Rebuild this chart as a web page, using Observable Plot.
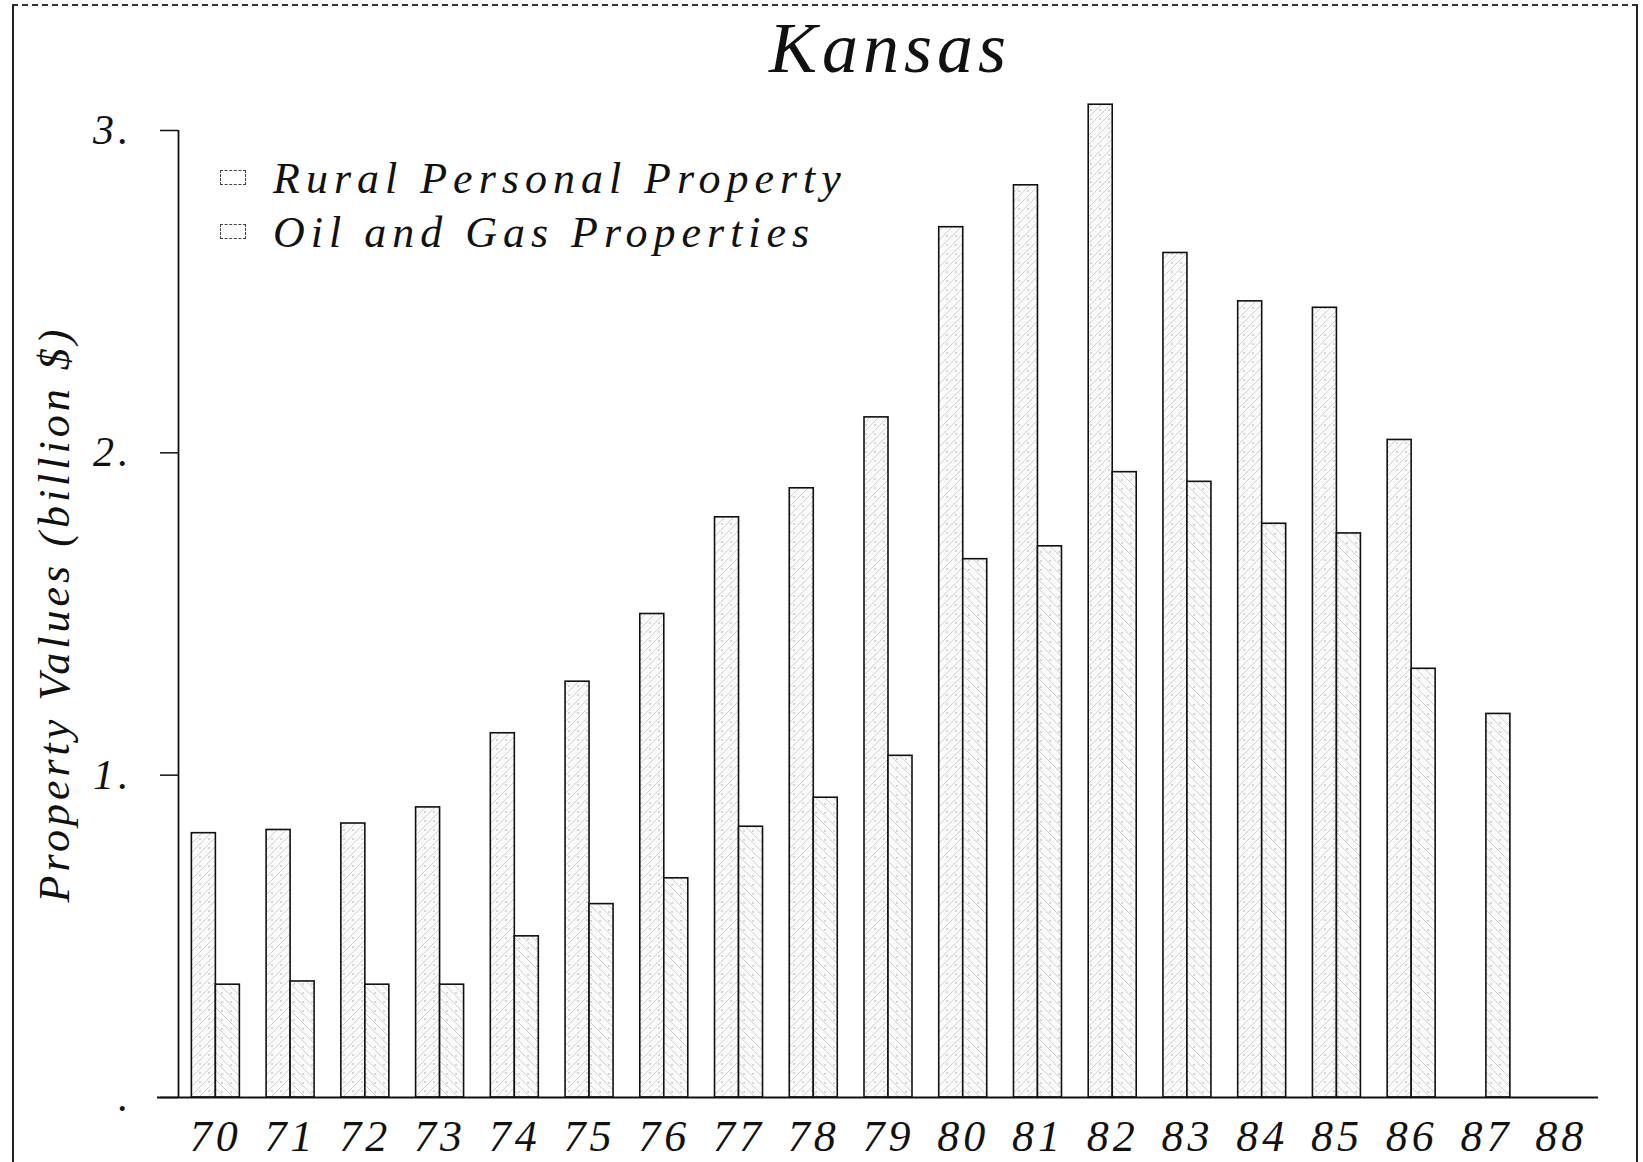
<!DOCTYPE html>
<html>
<head>
<meta charset="utf-8">
<script src="https://cdn.jsdelivr.net/npm/d3@7"></script>
<script src="https://cdn.jsdelivr.net/npm/@observablehq/plot@0.6"></script>
<style>
  html, body { margin: 0; padding: 0; background: #fff; }
  #wrap { position: relative; width: 1643px; height: 1162px; overflow: hidden; background: #fff;
          font-family: "Liberation Serif", "DejaVu Serif", serif; font-style: italic; color: #111; }
  #frame { position: absolute; left: 12px; top: 4px; width: 1622px; height: 1170px;
           border-left: 2px solid #222; border-right: 2px solid #222; border-top: 2px dashed #333; }
  #title { position: absolute; left: 0; width: 1780px; top: 8px; text-align: center;
           font-size: 72px; letter-spacing: 5px; line-height: 80px; }
  #chart { position: absolute; left: 0; top: 0; }
  .leg { position: absolute; left: 220px; font-size: 44px; letter-spacing: 6px; line-height: 50px; white-space: nowrap; }
  .leg .sw { display: inline-block; width: 24px; height: 13px; border: 1.5px dashed #444; margin-right: 27px; vertical-align: 8px; }
</style>
</head>
<body>
<div id="wrap">
  <div id="frame"></div>
  <div id="chart"></div>
  <div id="title">Kansas</div>
  <div class="leg" style="top:154px"><span class="sw"></span>Rural Personal Property</div>
  <div class="leg" style="top:208px"><span class="sw"></span>Oil and Gas Properties</div>
</div>
<script>
const years = ["70","71","72","73","74","75","76","77","78","79","80","81","82","83","84","85","86","87","88"];
const rural = [0.82,0.83,0.85,0.90,1.13,1.29,1.50,1.80,1.89,2.11,2.70,2.83,3.08,2.62,2.47,2.45,2.04,null,null];
const oil   = [0.35,0.36,0.35,0.35,0.50,0.60,0.68,0.84,0.93,1.06,1.67,1.71,1.94,1.91,1.78,1.75,1.33,1.19,null];
const yTicks = [0, 1, 2, 3];
const yTickLabels = [".", "1.", "2.", "3."];
const seriesNames = ["Rural Personal Property", "Oil and Gas Properties"];

const ruralData = years.map((y, i) => ({year: y, value: rural[i], series: seriesNames[0]})).filter(d => d.value != null);
const oilData = years.map((y, i) => ({year: y, value: oil[i], series: seriesNames[1]})).filter(d => d.value != null);

const W = 1643, H = 1162;
const mL = 178, mR = 45, mT = 130, mB = 65;
const step = (W - mL - mR) / years.length;
const barW = 24;
const half = step / 2;

const font = `"Liberation Serif", "DejaVu Serif", serif`;

const chart = Plot.plot({
  width: W,
  height: H,
  marginLeft: mL,
  marginRight: mR,
  marginTop: mT,
  marginBottom: mB,
  style: {fontFamily: font, fontStyle: "italic", background: "transparent", color: "#111", overflow: "visible"},
  x: {type: "band", domain: years, padding: 0, round: false, axis: null},
  y: {domain: [0, 3], axis: null},
  marks: [
    Plot.barY(ruralData, {x: "year", y: "value", fill: "url(#hatchRural)", stroke: "#111", strokeWidth: 1.6,
      insetLeft: half - barW, insetRight: half}),
    Plot.barY(oilData, {x: "year", y: "value", fill: "url(#hatchOil)", stroke: "#111", strokeWidth: 1.6,
      insetLeft: half, insetRight: half - barW}),
    Plot.ruleY([0], {stroke: "#111", strokeWidth: 1.8, insetLeft: -21}),
    Plot.ruleX([years[0]], {y1: 0, y2: 3, dx: -half, stroke: "#111", strokeWidth: 1.8}),
    Plot.axisY(yTicks, {tickSize: 18, tickPadding: 28, tickFormat: (d) => yTickLabels[yTicks.indexOf(d)],
      fontSize: 42, stroke: "#111", strokeWidth: 1.5, label: null}),
    Plot.axisX(years, {tickSize: 0, tickPadding: 22, fontSize: 44, label: null}),
    Plot.text(["Property Values (billion $)"], {frameAnchor: "left", textAnchor: "middle", rotate: -90, dx: -124, dy: 0,
      fontSize: 44, fill: "#111"})
  ]
});

// patterns
const svg = d3.select(chart);
const defs = svg.insert("defs", ":first-child");
const pr = defs.append("pattern").attr("id", "hatchRural").attr("patternUnits", "userSpaceOnUse")
  .attr("width", 9).attr("height", 9);
pr.append("rect").attr("width", 9).attr("height", 9).attr("fill", "#fafafa");
pr.append("path").attr("d", "M0,9 L9,0 M-2,2 L2,-2 M7,11 L11,7").attr("stroke", "#c8c8c8").attr("stroke-width", 0.8);
pr.append("circle").attr("cx", 2).attr("cy", 2).attr("r", 0.7).attr("fill", "#999");
const po = defs.append("pattern").attr("id", "hatchOil").attr("patternUnits", "userSpaceOnUse")
  .attr("width", 9).attr("height", 9);
po.append("rect").attr("width", 9).attr("height", 9).attr("fill", "#fafafa");
po.append("path").attr("d", "M0,0 L9,9 M-2,7 L2,11 M7,-2 L11,2").attr("stroke", "#c8c8c8").attr("stroke-width", 0.8);
po.append("circle").attr("cx", 6).attr("cy", 3).attr("r", 0.7).attr("fill", "#999");

svg.selectAll("text").style("letter-spacing", "4px");
document.getElementById("chart").appendChild(chart);
</script>
</body>
</html>
